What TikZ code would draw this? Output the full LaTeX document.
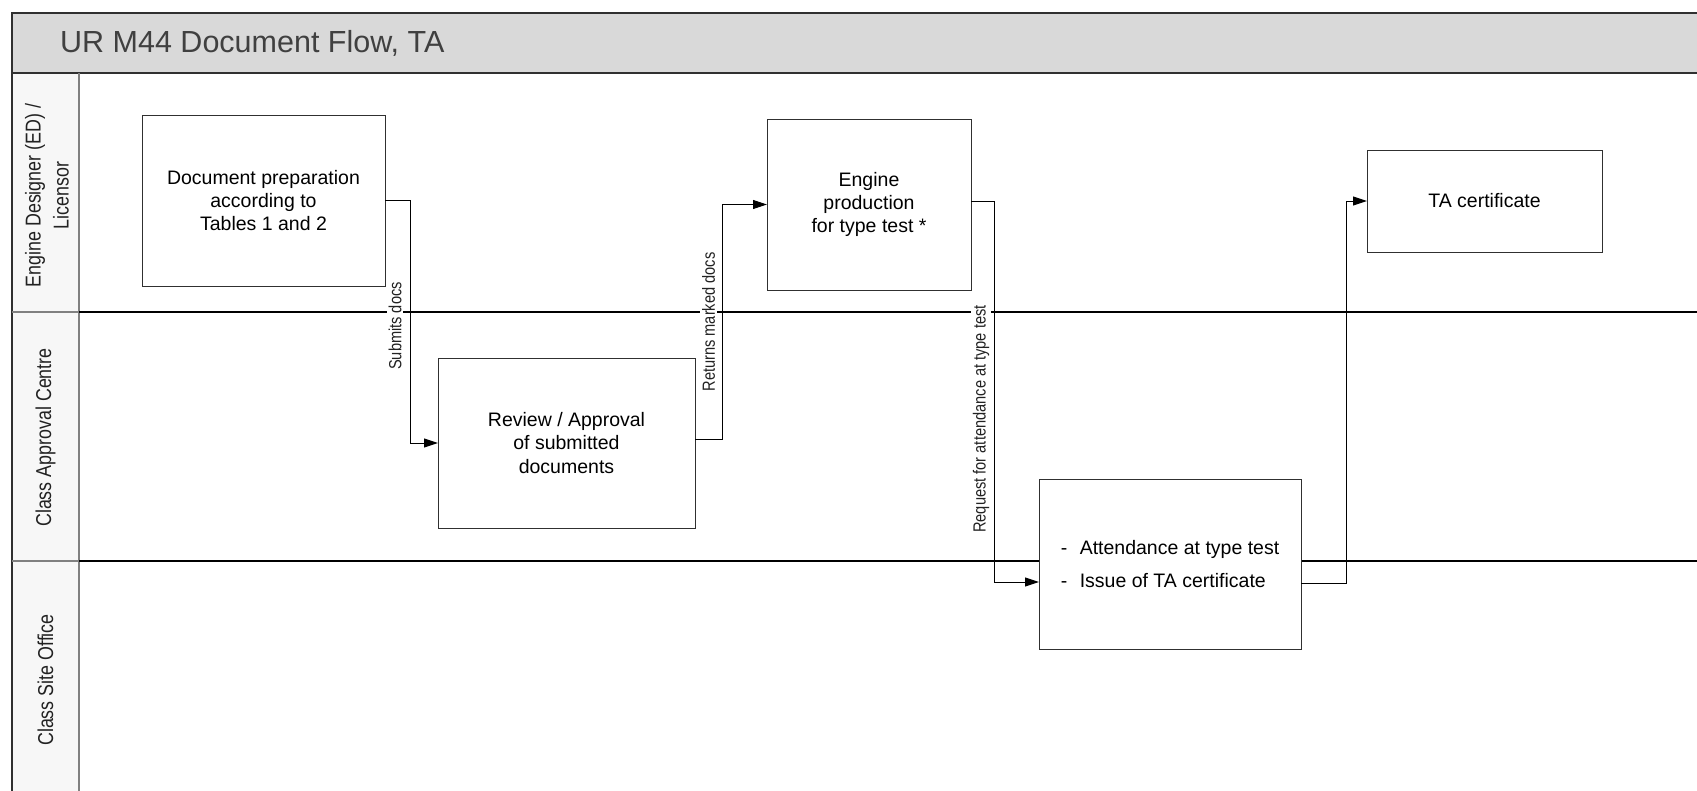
\documentclass[tikz,border=0pt]{standalone}
\usepackage{fontspec}
\setmainfont{Liberation Sans}
\newfontfamily\narrowfont[FakeStretch=0.83]{Liberation Sans}
\usetikzlibrary{arrows.meta}
\definecolor{titlefill}{HTML}{D9D9D9}
\definecolor{headfill}{HTML}{F7F7F7}
\definecolor{titletext}{HTML}{404040}
\definecolor{framecol}{HTML}{303030}
\definecolor{boxline}{HTML}{303030}
\definecolor{labtext}{HTML}{222222}
\tikzset{
  procbox/.style={draw=boxline, line width=1pt, fill=white, inner sep=0pt, outer sep=0pt,
    align=center, font=\fontsize{19.5}{23.3}\selectfont},
  lanelabel/.style={rotate=90, align=center, text=labtext,
    font=\narrowfont\fontsize{21.5}{28}\selectfont},
  connlabel/.style={rotate=90, fill=white, inner sep=2pt, text=labtext,
    font=\narrowfont\fontsize{17.6}{20}\selectfont},
  conn/.style={draw=black, line width=1pt,
    -{Triangle[length=14pt,width=9pt]}}
}
\begin{document}
\begin{tikzpicture}[x=1pt,y=-1pt]
\clip (0,0) rectangle (1697,790);
\fill[white] (0,0) rectangle (1697,790);
% lane header column
\fill[headfill] (12,73) rectangle (79,800);
% title band
\fill[titlefill] (12,13) rectangle (1710,73);
\draw[framecol, line width=1.2pt] (12,800) -- (12,13) -- (1710,13);
\draw[framecol, line width=1.2pt] (12,73) -- (1710,73);
\draw[gray, line width=1.1pt] (79,73) -- (79,800);
% lane separators
\draw[gray, line width=1.1pt] (12,312) -- (79,312);
\draw[black, line width=1.1pt] (79,312) -- (1710,312);
\draw[gray, line width=1.1pt] (12,561) -- (79,561);
\draw[black, line width=1.1pt] (79,561) -- (1710,561);
% title
\node[anchor=base west, inner sep=0pt, text=titletext, font=\fontsize{30.5}{36}\selectfont]
  (title) at (60,52) {UR M44 Document Flow, TA};
% lane labels
\node[lanelabel] (lane1) at (47,195.5) {Engine Designer (ED) /\\Licensor};
\node[lanelabel] (lane2) at (45.5,437.5) {Class Approval Centre};
\node[lanelabel] (lane3) at (45.5,680) {Class Site Office};
% boxes
\node[procbox, minimum width=243pt, minimum height=171pt] (box1) at (263.5,200.5)
  {Document preparation\\according to\\Tables 1 and 2};
\node[procbox, minimum width=257pt, minimum height=170pt] (box2) at (566.5,443)
  {Review / Approval\\of submitted\\documents};
\node[procbox, minimum width=204pt, minimum height=171pt] (box3) at (869,204.5)
  {Engine\\production\\for type test *};
\node[procbox, minimum width=262pt, minimum height=170pt, align=left,
  font=\fontsize{19.5}{33}\selectfont] (box4) at (1170,564)
  {\makebox[19pt][l]{-}Attendance at type test\\\makebox[19pt][l]{-}Issue of TA certificate};
\node[procbox, minimum width=235pt, minimum height=102pt] (box5) at (1484.5,201)
  {TA certificate};
% connectors
\draw[conn] (box1.east) -- ++(25,0) |- (box2.west);
\draw[conn] ([yshift=4pt]box2.east) -- ++(27,0) |- (box3.west);
\draw[conn] ([yshift=3.5pt]box3.east) -- ++(23,0) |- ([yshift=-18pt]box4.west);
\draw[conn] ([yshift=-19pt]box4.east) -- ++(45,0) |- (box5.west);
% connector labels
\node[connlabel] (l1) at (395,326) {Submits docs};
\node[connlabel] (l2) at (708.5,322) {Returns marked docs};
\node[connlabel] (l3) at (981,419) {Request for attendance at type test};
\end{tikzpicture}
\end{document}
